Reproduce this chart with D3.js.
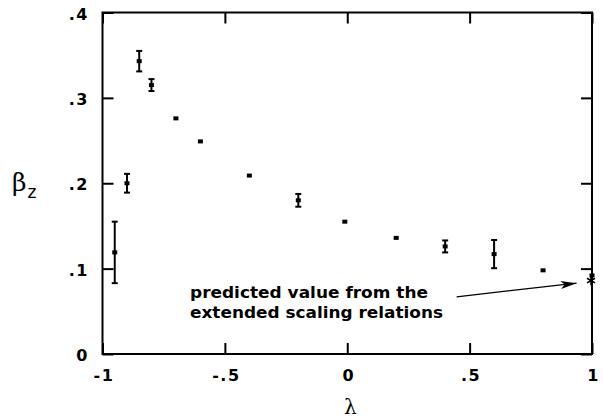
<!DOCTYPE html>
<html>
<head>
<meta charset="utf-8">
<script src="https://cdn.jsdelivr.net/npm/d3@7"></script>
<style>
  html, body { margin: 0; padding: 0; background: #fff; }
  svg { display: block; }
</style>
</head>
<body>
<svg id="chart" width="603" height="419"></svg>
<script>
// ---- data ----
const lambdaVals = [-0.95, -0.90, -0.85, -0.80, -0.70, -0.60, -0.40, -0.20, -0.01, 0.20, 0.40, 0.60, 0.80, 1.00];
const betaVals   = [0.119, 0.200, 0.343, 0.315, 0.276, 0.249, 0.209, 0.180, 0.155, 0.136, 0.126, 0.117, 0.098, 0.092];
const betaErr    = [0.036, 0.011, 0.012, 0.007, 0, 0, 0, 0.0075, 0, 0, 0.007, 0.0165, 0, 0];
const predictedLambda = [0.996];
const predictedBeta   = [0.086];
const xTickValues = [-1, -0.5, 0, 0.5, 1];
const xTickLabels = ["-1", "-.5", "0", ".5", "1"];
const yTickValues = [0, 0.1, 0.2, 0.3, 0.4];
const yTickLabels = ["0", ".1", ".2", ".3", ".4"];
const annotationLines = ["predicted value from the", "extended scaling relations"];
const arrowFrom = [0.447, 0.067];
const arrowTo   = [0.937, 0.083];

// ---- layout ----
const W = 603, H = 419;
const margin = { left: 102.5, right: 11, top: 12.5, bottom: 65 };
const iw = W - margin.left - margin.right;
const ih = H - margin.top - margin.bottom;

const svg = d3.select("#chart");
const g = svg.append("g").attr("transform", `translate(${margin.left},${margin.top})`);

const x = d3.scaleLinear().domain([-1, 1]).range([0, iw]);
const y = d3.scaleLinear().domain([0, 0.4]).range([ih, 0]);

const tickFont = "'DejaVu Sans', sans-serif";
const tickLen = 11;

const xLab = d => xTickLabels[xTickValues.indexOf(d)];
const yLab = d => yTickLabels[yTickValues.indexOf(d)];

const gx = g.append("g").attr("transform", `translate(0,${ih})`)
  .call(d3.axisBottom(x).tickValues(xTickValues).tickFormat(xLab).tickSize(-tickLen).tickPadding(16));
const gxt = g.append("g")
  .call(d3.axisTop(x).tickValues(xTickValues).tickFormat("").tickSize(-tickLen));
const gy = g.append("g")
  .call(d3.axisLeft(y).tickValues(yTickValues).tickFormat(yLab).tickSize(-tickLen).tickPadding(15));
const gyr = g.append("g").attr("transform", `translate(${iw},0)`)
  .call(d3.axisRight(y).tickValues(yTickValues).tickFormat("").tickSize(-tickLen));

[gx, gxt, gy, gyr].forEach(a => {
  a.select(".domain").remove();
  a.selectAll(".tick line").attr("stroke", "#000").attr("stroke-width", 2);
  a.selectAll(".tick text")
    .attr("fill", "#000")
    .style("font-family", tickFont)
    .style("font-weight", "bold")
    .style("font-size", "16px")
    .style("letter-spacing", "1.5px");
});
gx.selectAll(".tick text").attr("dx", "1px");
gy.selectAll(".tick text").attr("dx", "1.5px").attr("dy", "0.42em");

// frame
g.append("rect")
  .attr("x", 0).attr("y", 0).attr("width", iw).attr("height", ih)
  .attr("fill", "none").attr("stroke", "#000").attr("stroke-width", 2);

// data
const data = lambdaVals.map((l, i) => ({ l, b: betaVals[i], e: betaErr[i] }));

const eb = g.append("g").attr("stroke", "#000").attr("stroke-width", 2);
data.filter(d => d.e > 0).forEach(d => {
  const cx = x(d.l), y1 = y(d.b - d.e), y2 = y(d.b + d.e);
  eb.append("line").attr("x1", cx).attr("x2", cx).attr("y1", y1).attr("y2", y2);
  eb.append("line").attr("x1", cx - 3).attr("x2", cx + 3).attr("y1", y1).attr("y2", y1);
  eb.append("line").attr("x1", cx - 3).attr("x2", cx + 3).attr("y1", y2).attr("y2", y2);
});

g.append("g").selectAll("rect").data(data).join("rect")
  .attr("x", d => x(d.l) - 2.5)
  .attr("y", d => y(d.b) - 2)
  .attr("width", 5).attr("height", 4)
  .attr("fill", "#000");

// predicted star
g.append("g").selectAll("path").data(predictedLambda.map((l, i) => ({ l, b: predictedBeta[i] }))).join("path")
  .attr("transform", d => `translate(${x(d.l)},${y(d.b)})`)
  .attr("d", d3.symbol().type(d3.symbolAsterisk).size(60))
  .attr("fill", "none").attr("stroke", "#000").attr("stroke-width", 1.6);

// arrow
svg.append("defs").append("marker")
  .attr("id", "ah").attr("viewBox", "0 0 16 8").attr("refX", 16).attr("refY", 4)
  .attr("markerWidth", 16).attr("markerHeight", 8).attr("markerUnits", "userSpaceOnUse")
  .attr("orient", "auto")
  .append("path").attr("d", "M0,0 L16,4 L0,8 L4,4 Z").attr("fill", "#000");

g.append("line")
  .attr("x1", x(arrowFrom[0])).attr("y1", y(arrowFrom[1]))
  .attr("x2", x(arrowTo[0])).attr("y2", y(arrowTo[1]))
  .attr("stroke", "#000").attr("stroke-width", 1.2)
  .attr("marker-end", "url(#ah)");

// annotation text
const annX = 190 - margin.left;
const annW = [238, 253];
annotationLines.forEach((t, i) => {
  g.append("text")
    .attr("x", annX).attr("y", 297.5 - margin.top + i * 20.8)
    .attr("textLength", annW[i]).attr("lengthAdjust", "spacingAndGlyphs")
    .style("font-family", tickFont).style("font-weight", "bold").style("font-size", "15px")
    .attr("fill", "#000")
    .text(t);
});

// axis titles
const yt = svg.append("text").attr("x", 12).attr("y", 191)
  .style("font-family", "'DejaVu Serif', 'Liberation Serif', serif").style("font-size", "25px").attr("fill", "#000");
yt.append("tspan").text("β");
yt.append("tspan").attr("dx", 1).attr("dy", 7)
  .style("font-family", "'DejaVu Sans', sans-serif").style("font-size", "17px").text("z");

svg.append("text").attr("x", margin.left + x(0) + 3).attr("y", 414)
  .attr("text-anchor", "middle")
  .style("font-family", "'DejaVu Serif', 'Liberation Serif', serif").style("font-size", "20px").attr("fill", "#000")
  .text("λ");
</script>
</body>
</html>
